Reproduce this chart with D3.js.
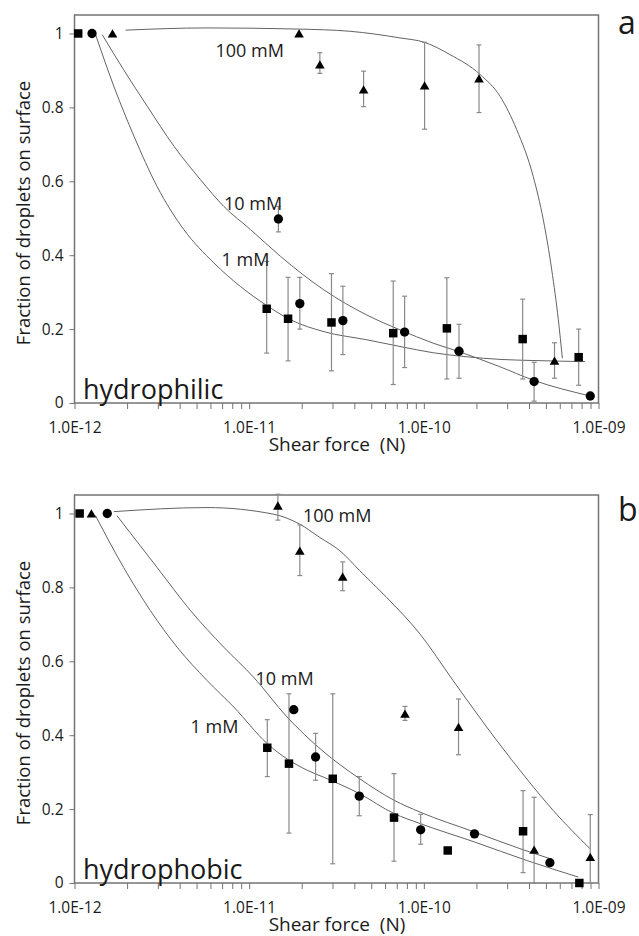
<!DOCTYPE html>
<html>
<head>
<meta charset="utf-8">
<script src="https://cdn.jsdelivr.net/npm/d3@7"></script>
<style>
	body { margin: 0; background: #fff; }
	svg { display: block; font-family: "Open Sans", sans-serif; }
	text { fill: #1a1a1a; }
</style>
</head>
<body>
<svg id="chart" width="639" height="936"></svg>
<script>
// axis ticks
var xTickValues = [1e-12, 1e-11, 1e-10, 1e-9];
var xTickLabels = ['1.0E-12', '1.0E-11', '1.0E-10', '1.0E-09'];
var yTickValues = [0, 0.2, 0.4, 0.6, 0.8, 1];
var yTickLabels = ['0', '0.2', '0.4', '0.6', '0.8', '1'];

// measured points: [shear force (N), fraction, error low, error high]
var philic1mM = [
	[1.05e-12, 1.0, null, null],
	[1.26e-11, 0.255, 0.135, 0.383],
	[1.67e-11, 0.228, 0.114, 0.34],
	[2.96e-11, 0.218, 0.087, 0.35],
	[6.68e-11, 0.189, 0.05, 0.33],
	[1.355e-10, 0.202, 0.065, 0.339],
	[3.68e-10, 0.173, 0.065, 0.281],
	[7.7e-10, 0.124, 0.048, 0.2]
];
var philic10mM = [
	[1.26e-12, 1.0, null, null],
	[1.47e-11, 0.498, 0.463, 0.532],
	[1.95e-11, 0.269, 0.2, 0.34],
	[3.44e-11, 0.223, 0.131, 0.316],
	[7.76e-11, 0.192, 0.096, 0.289],
	[1.59e-10, 0.14, 0.067, 0.213],
	[4.28e-10, 0.058, 0.005, 0.11],
	[8.97e-10, 0.019, null, null]
];
var philic100mM = [
	[1.65e-12, 1.0, null, null],
	[1.93e-11, 1.0, null, null],
	[2.54e-11, 0.916, 0.892, 0.948],
	[4.52e-11, 0.848, 0.802, 0.898],
	[1.01e-10, 0.859, 0.741, 0.976],
	[2.07e-10, 0.878, 0.786, 0.969],
	[5.6e-10, 0.114, 0.067, 0.163]
];
var phobic1mM = [
	[1.07e-12, 1.0, null, null],
	[1.27e-11, 0.366, 0.288, 0.442],
	[1.69e-11, 0.323, 0.135, 0.512],
	[3.01e-11, 0.282, 0.052, 0.512],
	[6.75e-11, 0.177, 0.059, 0.296],
	[1.37e-10, 0.088, null, null],
	[3.70e-10, 0.140, 0.028, 0.25],
	[7.77e-10, 0.0, null, null]
];
var phobic10mM = [
	[1.54e-12, 1.0, null, null],
	[1.80e-11, 0.469, null, null],
	[2.40e-11, 0.341, 0.278, 0.405],
	[4.27e-11, 0.235, 0.182, 0.288],
	[9.59e-11, 0.144, 0.105, 0.186],
	[1.95e-10, 0.133, null, null],
	[5.27e-10, 0.055, null, null]
];
var phobic100mM = [
	[1.25e-12, 1.0, null, null],
	[1.46e-11, 1.021, 0.982, 1.052],
	[1.95e-11, 0.899, 0.832, 0.969],
	[3.43e-11, 0.829, 0.791, 0.869],
	[7.80e-11, 0.458, 0.44, 0.478],
	[1.58e-10, 0.422, 0.347, 0.498],
	[4.28e-10, 0.090, 0.0, 0.232],
	[8.97e-10, 0.070, 0.0, 0.185]
];

// fitted curves: [shear force (N), fraction]
var philicFit1mM = [
	[1.32e-12, 0.997], [1.68e-12, 0.857], [2.19e-12, 0.722], [2.97e-12, 0.586],
	[4.23e-12, 0.469], [6.28e-12, 0.379], [8.93e-12, 0.315], [1.24e-11, 0.266],
	[1.73e-11, 0.225], [2.68e-11, 0.193], [4.72e-11, 0.171], [7.30e-11, 0.153],
	[1.13e-10, 0.136], [1.77e-10, 0.125], [2.73e-10, 0.118], [4.22e-10, 0.115],
	[8.38e-10, 0.112]
];
var philicFit10mM = [
	[1.44e-12, 0.997], [1.91e-12, 0.902], [2.61e-12, 0.803], [3.71e-12, 0.695],
	[5.27e-12, 0.604], [7.16e-12, 0.532], [1.02e-11, 0.469], [1.51e-11, 0.397],
	[2.68e-11, 0.306], [4.72e-11, 0.238], [7.30e-11, 0.198], [1.13e-10, 0.162],
	[1.59e-10, 0.139], [2.73e-10, 0.098], [4.22e-10, 0.062], [8.97e-10, 0.019]
];
var philicFit100mM = [
	[1.96e-12, 1.009], [5.74e-12, 1.015], [1.88e-11, 1.012], [3.77e-11, 1.006],
	[7.30e-11, 0.988], [1.01e-10, 0.976], [1.41e-10, 0.943], [2.10e-10, 0.889],
	[2.73e-10, 0.830], [3.40e-10, 0.740], [4.23e-10, 0.613], [4.83e-10, 0.496],
	[5.40e-10, 0.360], [5.89e-10, 0.225], [6.21e-10, 0.121]
];
var phobicFit1mM = [
	[1.32e-12, 0.994], [1.91e-12, 0.854], [2.72e-12, 0.737], [3.87e-12, 0.638],
	[5.74e-12, 0.548], [8.17e-12, 0.476], [1.27e-11, 0.377], [2.15e-11, 0.305],
	[2.68e-11, 0.286], [4.27e-11, 0.242], [6.75e-11, 0.188], [9.50e-11, 0.161],
	[1.95e-10, 0.111], [3.88e-10, 0.061], [7.66e-10, 0.016]
];
var phobicFit10mM = [
	[1.75e-12, 0.994], [2.97e-12, 0.854], [4.62e-12, 0.737], [7.16e-12, 0.638],
	[1.06e-11, 0.557], [1.65e-11, 0.449], [2.61e-11, 0.359], [4.30e-11, 0.282],
	[6.75e-11, 0.224], [9.50e-11, 0.192], [1.95e-10, 0.138], [3.55e-10, 0.093],
	[5.27e-10, 0.066]
];
var phobicFit100mM = [
	[1.68e-12, 1.005], [5.74e-12, 1.016], [1.38e-11, 0.998], [1.95e-11, 0.971],
	[2.54e-11, 0.935], [3.31e-11, 0.899], [4.30e-11, 0.845], [6.12e-11, 0.773],
	[9.50e-11, 0.674], [1.47e-10, 0.548], [2.29e-10, 0.422], [3.55e-10, 0.305],
	[5.51e-10, 0.196], [8.93e-10, 0.093]
];

var seriesNames = ['1 mM', '10 mM', '100 mM'];

(function () {
	var svg = d3.select('#chart');
	var left = 74.5, right = 598.5;
	var frameColor = '#747474';

	var panels = [
		{
			top: 15, bottom: 403, letter: 'a', letterY: 34, surface: 'hydrophilic',
			points: [philic1mM, philic10mM, philic100mM],
			fits: [philicFit1mM, philicFit10mM, philicFit100mM],
			labelPos: [[221.5, 266], [224, 210], [215.5, 56.5]]
		},
		{
			top: 495, bottom: 883, letter: 'b', letterY: 521, surface: 'hydrophobic',
			points: [phobic1mM, phobic10mM, phobic100mM],
			fits: [phobicFit1mM, phobicFit10mM, phobicFit100mM],
			labelPos: [[190.5, 733], [255.5, 685], [303, 522]]
		}
	];

	var x = d3.scaleLog().domain([1e-12, 1e-9]).range([left, right]);
	var minorTicks = [];
	for (var e = -12; e < -9; e++) {
		for (var m = 2; m < 10; m++) {
			minorTicks.push(m * Math.pow(10, e));
		}
	}

	var symbols = [d3.symbolSquare, d3.symbolCircle, d3.symbolTriangle];
	var symbolSizes = [72, 68, 40];

	function styleTicks(a) {
		a.select('.domain').remove();
		a.selectAll('line').attr('stroke', frameColor);
		a.selectAll('text')
			.attr('font-size', 15.5)
			.attr('font-family', '"Open Sans", sans-serif')
			.attr('fill', '#1a1a1a');
	}

	panels.forEach(function (p) {
		var y = d3.scaleLinear().domain([0, 1.05]).range([p.bottom, p.top]);
		var g = svg.append('g');

		// minor ticks
		g.append('g')
			.attr('transform', 'translate(0,' + p.bottom + ')')
			.call(d3.axisBottom(x).tickValues(minorTicks).tickSize(6).tickFormat(''))
			.call(styleTicks);

		// major x ticks
		g.append('g')
			.attr('transform', 'translate(0,' + p.bottom + ')')
			.call(d3.axisBottom(x).tickValues(xTickValues).tickSize(6).tickPadding(13)
				.tickFormat(function (d, i) { return xTickLabels[i]; }))
			.call(styleTicks);

		// y ticks
		g.append('g')
			.attr('transform', 'translate(' + left + ',0)')
			.call(d3.axisLeft(y).tickValues(yTickValues).tickSize(5).tickPadding(6)
				.tickFormat(function (d, i) { return yTickLabels[i]; }))
			.call(styleTicks);

		// frame
		g.append('rect')
			.attr('x', left)
			.attr('y', p.top)
			.attr('width', right - left)
			.attr('height', p.bottom - p.top)
			.attr('fill', 'none')
			.attr('stroke', frameColor)
			.attr('stroke-width', 1.5);

		// fitted lines
		var line = d3.line()
			.x(function (d) { return x(d[0]); })
			.y(function (d) { return y(d[1]); })
			.curve(d3.curveMonotoneX);
		g.selectAll('path.fit')
			.data(p.fits)
			.enter().append('path')
			.attr('class', 'fit')
			.attr('d', line)
			.attr('fill', 'none')
			.attr('stroke', '#636363')
			.attr('stroke-width', 1);

		// error bars and markers
		p.points.forEach(function (series, si) {
			var withErr = series.filter(function (d) { return d[2] !== null; });
			var eb = g.append('g')
				.attr('stroke', '#8a8a8a')
				.attr('stroke-width', 1.2);
			eb.selectAll('line.bar')
				.data(withErr)
				.enter().append('line')
				.attr('x1', function (d) { return x(d[0]); })
				.attr('x2', function (d) { return x(d[0]); })
				.attr('y1', function (d) { return y(d[2]); })
				.attr('y2', function (d) { return y(d[3]); });
			[2, 3].forEach(function (k) {
				eb.selectAll('line.cap' + k)
					.data(withErr)
					.enter().append('line')
					.attr('x1', function (d) { return x(d[0]) - 2.5; })
					.attr('x2', function (d) { return x(d[0]) + 2.5; })
					.attr('y1', function (d) { return y(d[k]); })
					.attr('y2', function (d) { return y(d[k]); });
			});

			var shift = si === 2 ? 1.2 : 0;
			g.selectAll('path.mark' + si)
				.data(series)
				.enter().append('path')
				.attr('d', d3.symbol().type(symbols[si]).size(symbolSizes[si]))
				.attr('transform', function (d) {
					return 'translate(' + x(d[0]) + ',' + (y(d[1]) + shift) + ')';
				})
				.attr('fill', '#000');
		});

		// curve labels
		p.labelPos.forEach(function (pos, i) {
			g.append('text')
				.attr('x', pos[0])
				.attr('y', pos[1])
				.attr('font-size', 18)
				.text(seriesNames[i]);
		});

		g.append('text')
			.attr('x', 83)
			.attr('y', p.bottom - 4)
			.attr('font-size', 27)
			.text(p.surface);

		g.append('text')
			.attr('x', 618)
			.attr('y', p.letterY)
			.attr('font-size', 32)
			.text(p.letter);

		g.append('text')
			.attr('x', 337)
			.attr('y', p.bottom + 48)
			.attr('text-anchor', 'middle')
			.attr('font-size', 19)
			.style('white-space', 'pre')
			.text('Shear force  (N)');

		g.append('text')
			.attr('transform', 'translate(30,' + (p.top + 198) + ') rotate(-90)')
			.attr('text-anchor', 'middle')
			.attr('font-size', 18.5)
			.text('Fraction of droplets on surface');
	});
}());
</script>
</body>
</html>
